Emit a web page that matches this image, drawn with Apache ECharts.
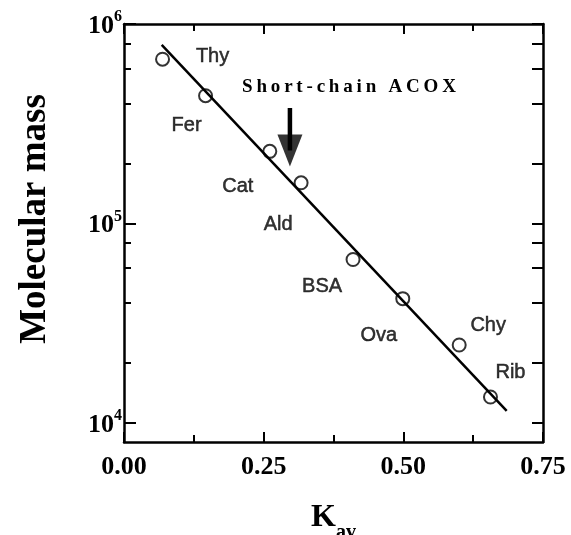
<!DOCTYPE html>
<html>
<head>
<meta charset="utf-8">
<script src="https://cdn.jsdelivr.net/npm/echarts@6/dist/echarts.min.js"></script>
<style>
html, body { margin: 0; padding: 0; background: #fff; }
#chart { width: 571px; height: 535px; }
</style>
</head>
<body>
<div id="chart"></div>
<script>
// standards (gel filtration calibration)
var proteins = ['Thy', 'Fer', 'Cat', 'Ald', 'BSA', 'Ova', 'Chy', 'Rib'];
var kav = [0.069, 0.146, 0.261, 0.317, 0.410, 0.499, 0.600, 0.656];
var mass = [666000, 437000, 230000, 160000, 66000, 42000, 24600, 13500];

// fitted line end points [Kav, mass]
var fitKav = [0.0675, 0.685];
var fitMass = [785000, 11500];

// arrow for short-chain ACOX
var arrowKav = [0.297, 0.297];
var arrowMass = [379000, 232000];

var xTicks = [0, 0.25, 0.5, 0.75];
var yMajor = [1e4, 1e5, 1e6];
var yMinor = [2e4, 4e4, 6e4, 8e4, 2e5, 4e5, 6e5, 8e5];

// label offsets in px, per protein
var labelOffsets = [[50, -3], [-19, 30], [-32, 35], [-23, 42], [-31, 27], [-24, 37], [29, -20], [20, -25]];

var serif = 'Liberation Serif';
var sans = 'Liberation Sans';
var black = '#000';

var chart = echarts.init(document.getElementById('chart'));

var yLabelRich = {
	b: { fontFamily: serif, fontWeight: 'bold', fontSize: 26, color: black, padding: [4, 0, 0, 0] },
	s: { fontFamily: serif, fontWeight: 'bold', fontSize: 16, color: black, verticalAlign: 'top' }
};

var option = {
	backgroundColor: '#fff',
	animation: false,
	grid: { left: 124, right: 28, top: 24, bottom: 93, outerBoundsMode: 'none' },
	xAxis: [
		{
			type: 'value',
			min: xTicks[0],
			max: xTicks[xTicks.length - 1],
			interval: 0.25,
			name: '{k|K}{s|av}',
			nameLocation: 'middle',
			nameGap: 60,
			nameTextStyle: {
				rich: {
					k: { fontFamily: serif, fontWeight: 'bold', fontSize: 32, color: black, verticalAlign: 'top' },
					s: { fontFamily: serif, fontWeight: 'bold', fontSize: 20, color: black, verticalAlign: 'top', padding: [21, 0, 0, 0] }
				}
			},
			axisLine: { lineStyle: { color: black, width: 2.5 } },
			axisTick: { inside: true, length: 10, lineStyle: { color: black, width: 2 } },
			minorTick: { show: true, splitNumber: 2, length: 7, lineStyle: { color: black, width: 2 } },
			splitLine: { show: false },
			axisLabel: {
				margin: 12,
				fontFamily: serif, fontWeight: 'bold', fontSize: 26, color: black,
				formatter: function (v) { return v.toFixed(2); }
			}
		},
		{
			type: 'value',
			position: 'top',
			min: xTicks[0],
			max: xTicks[xTicks.length - 1],
			interval: 0.25,
			axisLine: { lineStyle: { color: black, width: 2.5 } },
			axisTick: { inside: true, length: 10, lineStyle: { color: black, width: 2 } },
			minorTick: { show: true, splitNumber: 2, length: 7, lineStyle: { color: black, width: 2 } },
			splitLine: { show: false },
			axisLabel: { show: false }
		}
	],
	yAxis: [
		{
			type: 'log',
			logBase: 10,
			min: 8030,
			max: 1e6,
			position: 'left',
			name: 'Molecular mass',
			nameLocation: 'middle',
			nameGap: 70,
			nameTextStyle: { fontFamily: serif, fontWeight: 'bold', fontSize: 37, color: black, padding: [0, 0, 0, 28] },
			axisLine: { lineStyle: { color: black, width: 2.5 } },
			axisTick: { inside: true, length: 12, customValues: yMajor, lineStyle: { color: black, width: 2 } },
			splitLine: { show: false },
			minorTick: { show: false },
			axisLabel: {
				margin: 2,
				customValues: yMajor,
				formatter: function (v) { return '{b|10}{s|' + Math.round(Math.log10(v)) + '}'; },
				rich: yLabelRich
			}
		},
		{
			type: 'log',
			logBase: 10,
			min: 8030,
			max: 1e6,
			position: 'left',
			axisLine: { show: false },
			axisTick: { inside: true, length: 7, customValues: yMinor, lineStyle: { color: black, width: 2 } },
			splitLine: { show: false },
			axisLabel: { show: false }
		},
		{
			type: 'log',
			logBase: 10,
			min: 8030,
			max: 1e6,
			position: 'right',
			axisLine: { lineStyle: { color: black, width: 2.5 } },
			axisTick: { inside: true, length: 11, customValues: yMajor.concat(yMinor), lineStyle: { color: black, width: 2 } },
			splitLine: { show: false },
			axisLabel: { show: false }
		}
	],
	graphic: [
		{
			type: 'text',
			x: 349,
			y: 87,
			style: {
				text: 'Short-chain ACOX'.split('').join('\u2009'),
				font: 'bold 19px "Liberation Serif"',
				fill: black,
				align: 'center',
				verticalAlign: 'middle'
			}
		}
	],
	series: [
		{
			type: 'line',
			silent: true,
			symbol: 'none',
			lineStyle: { color: black, width: 2.5 },
			data: fitKav.map(function (k, i) { return [k, fitMass[i]]; }),
			z: 2
		},
		{
			type: 'scatter',
			symbol: 'circle',
			symbolSize: 13,
			itemStyle: { color: 'rgba(0,0,0,0)', borderColor: black, borderWidth: 2 },
			label: {
				show: true,
				position: 'inside',
				formatter: '{b}',
				fontFamily: sans,
				fontSize: 20,
				color: black,
				textBorderColor: black,
				textBorderWidth: 0.5
			},
			data: proteins.map(function (p, i) {
				return { name: p, value: [kav[i], mass[i]], label: { offset: labelOffsets[i] } };
			}),
			z: 3
		},
		{
			// arrow shaft
			type: 'line',
			silent: true,
			symbol: 'none',
			lineStyle: { color: black, width: 4.5 },
			data: arrowKav.map(function (k, i) { return [k, arrowMass[i]]; }),
			z: 4
		},
		{
			// arrow head
			type: 'scatter',
			silent: true,
			symbol: 'triangle',
			symbolRotate: 180,
			symbolSize: [25, 32],
			itemStyle: { color: black },
			data: [[arrowKav[1], arrowMass[1]]],
			z: 4
		}
	]
};

chart.setOption(option);
</script>
</body>
</html>
